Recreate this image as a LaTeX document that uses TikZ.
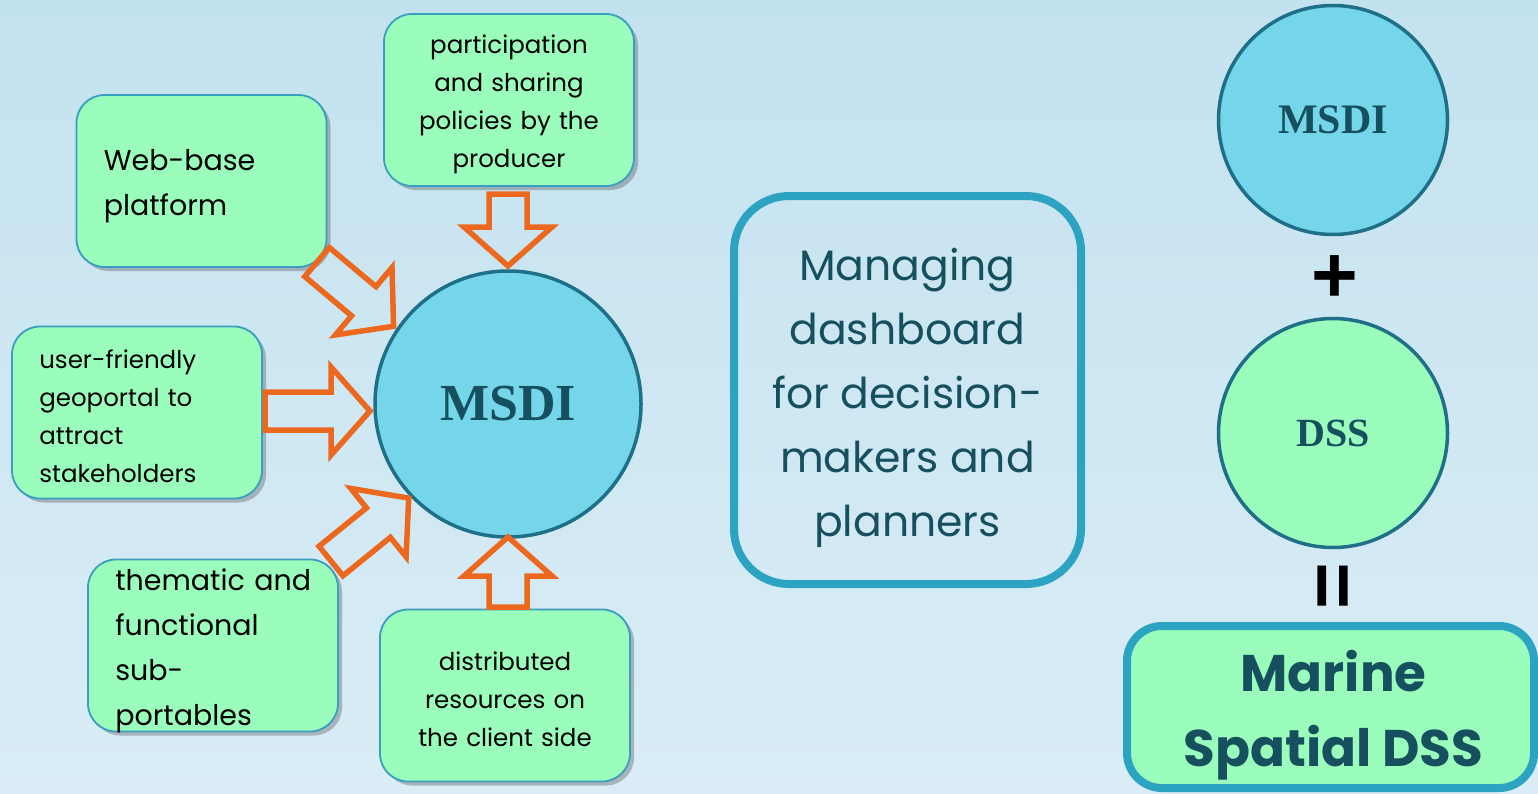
\documentclass[tikz,border=0pt]{standalone}
\usepackage{fontspec}
\setmainfont{Poppins}
\newfontfamily\tnr{Liberation Serif}
\newfontfamily\lsans{Liberation Sans}
\usetikzlibrary{shadows}
\definecolor{bgtop}{HTML}{C3E2EF}
\definecolor{bgbot}{HTML}{DAEDF6}
\definecolor{boxgreen}{HTML}{9AFDBB}
\definecolor{boxline}{HTML}{3A9EC0}
\definecolor{circfill}{HTML}{75D6EA}
\definecolor{circline}{HTML}{1E6F87}
\definecolor{darkteal}{HTML}{16505F}
\definecolor{thickline}{HTML}{2DA3C2}
\definecolor{arroworange}{HTML}{EC681E}
\tikzset{
  greenbox/.style={draw=boxline, line width=1.8pt, fill=boxgreen, rounded corners=28pt,
    minimum width=250pt, minimum height=172pt, inner sep=0pt,
    drop shadow={shadow xshift=4pt, shadow yshift=-4pt, fill=black!70, opacity=0.35}},
  smalltxt/.style={font=\fontsize{24.5}{38}\selectfont, text=black, inner sep=0pt, text width=194pt},
  bigtxt/.style={font=\fontsize{28.5}{45}\selectfont, text=black, inner sep=0pt, text width=215pt},
  bigcirc/.style={circle, draw=circline, line width=3.5pt},
  arrowline/.style={draw=arroworange, line width=5.5pt, line join=miter, miter limit=10},
  pics/barrow/.style={code={
    \draw[arrowline] (0,-19) -- ({#1-39},-19) -- ({#1-39},-44) -- (#1,0)
      -- ({#1-39},44) -- ({#1-39},19) -- (0,19) -- cycle;}}
}
\begin{document}
\begin{tikzpicture}[x=1pt,y=-1pt]
\useasboundingbox (0,0) rectangle (1538,793);
\clip (0,0) rectangle (1538,793);
\shade[top color=bgtop, bottom color=bgbot] (0,0) rectangle (1538,793);

% left green boxes
\node[greenbox] (part) at (509,100) {};
\node[smalltxt, align=center] (partt) at ([yshift=-4pt]part.center)
  {participation\\and sharing\\policies by the\\producer};
\node[greenbox] (web) at (201.5,181) {};
\node[bigtxt, align=left, anchor=west] (webt) at ([xshift=28pt,yshift=-5pt]web.west)
  {Web-base\\platform};
\node[greenbox] (user) at (137,412.5) {};
\node[smalltxt, align=left, anchor=west] (usert) at ([xshift=28pt,yshift=-4pt]user.west)
  {user-friendly\\geoportal to\\attract\\stakeholders};
\node[greenbox] (them) at (213,645.5) {};
\node[bigtxt, align=left, anchor=west] (themt) at ([xshift=28pt,yshift=-5pt]them.west)
  {thematic and\\functional\\sub-\\portables};
\node[greenbox] (dist) at (505,695.5) {};
\node[smalltxt, align=center] (distt) at ([yshift=-4pt]dist.center)
  {distributed\\resources on\\the client side};

% central circle
\node[bigcirc, fill=circfill, minimum size=266pt, text=darkteal,
  font=\tnr\bfseries\fontsize{52}{52}\selectfont] (msdi) at (508,404) {MSDI};

% block arrows
\pic[rotate=-90] (a1) at (508,194) {barrow=72};
\pic[rotate=-40] (a2) at (317,262) {barrow=100};
\pic (a3) at (265,411) {barrow=105};
\pic[rotate=39] (a4) at (331,561) {barrow=100};
\pic[rotate=90] (a5) at (508,607) {barrow=70};

% dashboard
\node[draw=thickline, line width=8pt, rounded corners=55pt, minimum width=347pt,
  minimum height=388pt] (dash) at (907.5,390) {};
\node[text=darkteal, align=center, inner sep=0pt,
  font=\fontsize{42.5}{64}\selectfont] (dasht) at ([yshift=-8pt]dash.center)
  {Managing\\dashboard\\for decision-\\makers and\\planners};

% right column
\node[bigcirc, fill=circfill, minimum size=229pt, text=darkteal,
  font=\tnr\bfseries\fontsize{42}{42}\selectfont] (msdi2) at (1333,120) {MSDI};
\node[font=\lsans\bfseries\fontsize{80}{80}\selectfont, text=black] (plus) at (1335,279) {+};
\node[bigcirc, fill=boxgreen, minimum size=229pt, text=darkteal,
  font=\tnr\bfseries\fontsize{40}{40}\selectfont] (dss) at (1333,433) {DSS};
\node[font=\lsans\bfseries\fontsize{80}{80}\selectfont, text=black, rotate=90] (eq) at (1339,586) {=};
\node[draw=thickline, line width=8pt, fill=boxgreen, rounded corners=35pt,
  minimum width=407pt, minimum height=162pt] (msdss) at (1330.5,707) {};
\node[text=darkteal, align=center, inner sep=0pt,
  font=\bfseries\fontsize{51.5}{75}\selectfont] (msdsst) at ([xshift=3pt,yshift=-8pt]msdss.center)
  {Marine\\Spatial DSS};
\end{tikzpicture}
\end{document}
